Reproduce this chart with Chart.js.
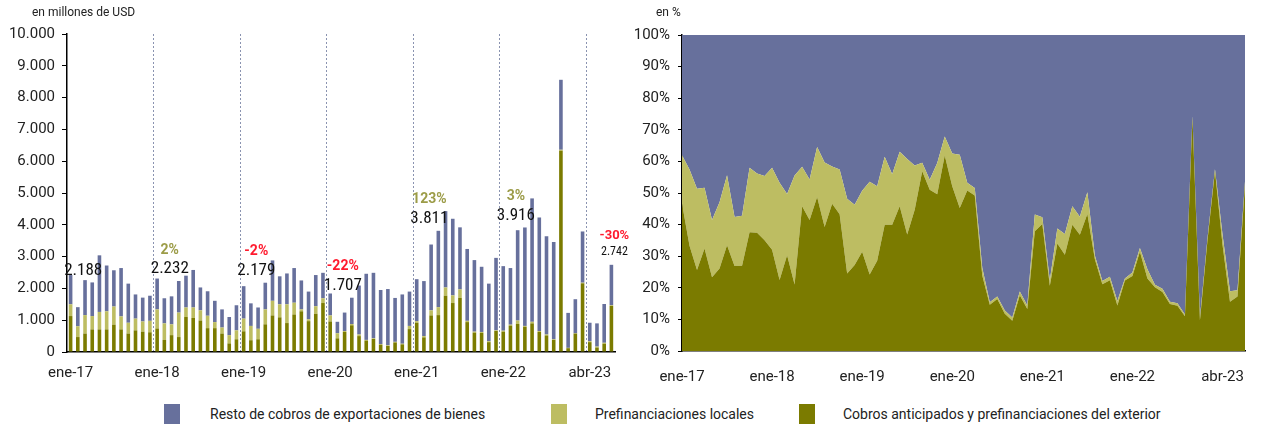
<!DOCTYPE html>
<html>
<head>
<meta charset="utf-8">
<script src="https://cdn.jsdelivr.net/npm/chart.js@4.4.0/dist/chart.umd.min.js"></script>
<style>
  body { margin: 0; background: #fff; font-family: Roboto, sans-serif; }
  #wrap { position: relative; width: 1266px; height: 428px; overflow: hidden; }
  canvas { position: absolute; top: 0; }
  .unit { position: absolute; top: 5px; font-size: 12px; color: #222; }
  .lg-box { position: absolute; top: 404px; width: 16px; height: 20px; }
  .lg-txt { position: absolute; top: 405px; font-size: 14px; color: #222; white-space: nowrap; line-height: 18px; }
</style>
</head>
<body>
<div id="wrap">
  <canvas id="left" width="645" height="390" style="left:0"></canvas>
  <canvas id="right" width="636" height="390" style="left:630px"></canvas>
  <div class="unit" style="left:32px">en millones de USD</div>
  <div class="unit" style="left:656px">en %</div>
  <div class="lg-box" style="left:164px;background:#67709c"></div>
  <div class="lg-txt" style="left:210px">Resto de cobros de exportaciones de bienes</div>
  <div class="lg-box" style="left:551px;background:#bdbd62"></div>
  <div class="lg-txt" style="left:595px">Prefinanciaciones locales</div>
  <div class="lg-box" style="left:799px;background:#7b7b00"></div>
  <div class="lg-txt" style="left:843px">Cobros anticipados y prefinanciaciones del exterior</div>
</div>
<script>
// meses ene-17 .. abr-23
var months = [
  'ene-17','feb-17','mar-17','abr-17','may-17','jun-17','jul-17','ago-17','sep-17','oct-17','nov-17','dic-17',
  'ene-18','feb-18','mar-18','abr-18','may-18','jun-18','jul-18','ago-18','sep-18','oct-18','nov-18','dic-18',
  'ene-19','feb-19','mar-19','abr-19','may-19','jun-19','jul-19','ago-19','sep-19','oct-19','nov-19','dic-19',
  'ene-20','feb-20','mar-20','abr-20','may-20','jun-20','jul-20','ago-20','sep-20','oct-20','nov-20','dic-20',
  'ene-21','feb-21','mar-21','abr-21','may-21','jun-21','jul-21','ago-21','sep-21','oct-21','nov-21','dic-21',
  'ene-22','feb-22','mar-22','abr-22','may-22','jun-22','jul-22','ago-22','sep-22','oct-22','nov-22','dic-22',
  'ene-23','feb-23','mar-23','abr-23'
];

// millones de USD
var anticipados = [
  1130,470,580,710,710,710,860,710,580,680,640,620,
  740,380,530,470,1100,1070,990,750,750,580,270,400,
  650,370,400,870,1150,1090,910,1180,1280,970,1200,1540,
  960,430,630,840,500,360,410,230,190,300,240,720,
  920,460,1150,1160,1770,1540,1700,940,610,600,310,660,
  640,830,880,790,900,630,520,380,6330,120,580,2160,
  310,140,260,1450
];
var locales = [
  370,340,580,420,550,570,570,410,340,370,320,360,
  600,520,340,770,300,330,320,390,190,190,260,280,
  400,450,330,470,460,410,590,370,60,60,240,150,
  190,160,30,40,50,20,20,20,20,20,20,100,
  50,40,160,250,260,240,270,40,30,30,30,20,
  30,30,110,30,50,30,30,20,30,10,10,20,
  30,30,30,20
];
var resto = [
  920,600,1100,1058,1780,1440,1140,1520,1230,760,750,790,
  970,790,880,992,1000,1180,720,770,670,570,570,790,
  1020,710,670,839,1270,880,970,1090,910,870,980,800,
  690,360,580,827,1540,2080,2060,1700,1770,1380,1550,1080,
  1320,1730,2070,2401,2400,2410,1950,2260,2250,2050,1810,2280,
  2030,1780,2840,3096,3880,3570,3090,3060,2200,1100,1070,1610,
  580,730,1220,1272
];

var axisLabels = {0:'ene-17', 12:'ene-18', 24:'ene-19', 36:'ene-20', 48:'ene-21', 60:'ene-22', 72:'abr-23'};

// etiquetas de abril y variacion interanual
var aprilIdx = [3, 15, 27, 39, 51, 63, 75];
var aprilText = ['2.188', '2.232', '2.179', '1.707', '3.811', '3.916', '2.742'];
var yoyText = ['', '2%', '-2%', '-22%', '123%', '3%', '-30%'];

var colAnt = '#7b7b00', colLoc = '#bdbd62', colResto = '#67709c';

var totals = months.map(function(m, i){ return anticipados[i] + locales[i] + resto[i]; });
var pctAnt = anticipados.map(function(v, i){ return v / totals[i] * 100; });
var pctLoc = locales.map(function(v, i){ return v / totals[i] * 100; });
var pctResto = resto.map(function(v, i){ return v / totals[i] * 100; });

var tickFont = {family: 'Roboto', size: 15};

var aprPlugin = {
  id: 'aprLabels',
  afterDatasetsDraw: function(chart) {
    var ctx = chart.ctx, x = chart.scales.x, y = chart.scales.y;
    ctx.save();
    ctx.textAlign = 'center';
    ctx.textBaseline = 'middle';
    aprilIdx.forEach(function(idx, k) {
      var last = k === aprilIdx.length - 1;
      var px = x.getPixelForValue(idx) + (last ? 3 : -9);
      var py = y.getPixelForValue(totals[idx]) - (last ? 13 : 12);
      ctx.fillStyle = '#111';
      ctx.font = (last ? '12px' : '17px') + ' "Liberation Sans Narrow", "Roboto Condensed", Roboto';
      ctx.fillText(aprilText[k], px, py);
      if (yoyText[k]) {
        ctx.font = 'bold ' + (last ? '13px' : '14px') + ' Roboto';
        ctx.fillStyle = yoyText[k].charAt(0) === '-' ? '#ff1a2e' : '#9c9c48';
        ctx.fillText(yoyText[k], px, py - (last ? 16 : 19));
      }
    });
    ctx.restore();
  }
};

new Chart(document.getElementById('left'), {
  type: 'bar',
  data: {
    labels: months,
    datasets: [
      {label: 'Cobros anticipados y prefinanciaciones del exterior', data: anticipados, backgroundColor: colAnt},
      {label: 'Prefinanciaciones locales', data: locales, backgroundColor: colLoc},
      {label: 'Resto de cobros de exportaciones de bienes', data: resto, backgroundColor: colResto}
    ]
  },
  options: {
    responsive: false,
    animation: false,
    barPercentage: 0.5,
    categoryPercentage: 1.0,
    layout: {padding: {top: 34, right: 30, left: 0, bottom: 8}},
    plugins: {legend: {display: false}, tooltip: {enabled: false}},
    scales: {
      x: {
        stacked: true,
        offset: true,
        grid: {
          offset: true,
          drawTicks: false,
          color: function(c) { return (c.index > 0 && c.index % 12 === 0) ? '#8a93b0' : 'rgba(0,0,0,0)'; }
        },
        border: {color: '#000', width: 1.5, dash: [2, 2]},
        ticks: {
          autoSkip: false, maxRotation: 0, padding: 12, font: tickFont, color: '#222',
          callback: function(v, i) { return axisLabels[i] || ''; }
        },
        afterFit: function(s) { s.height = 30; }
      },
      y: {
        stacked: true, min: 0, max: 10000,
        grid: {drawOnChartArea: false, drawTicks: true, tickLength: 5, color: '#000'},
        border: {color: '#000', width: 1.5},
        ticks: {
          stepSize: 1000, padding: 7, font: tickFont, color: '#222',
          callback: function(v) { return v.toLocaleString('de-DE'); }
        },
        afterFit: function(s) { s.width = 67; }
      }
    }
  },
  plugins: [aprPlugin]
});

new Chart(document.getElementById('right'), {
  type: 'line',
  data: {
    labels: months,
    datasets: [
      {data: pctAnt, backgroundColor: colAnt, fill: 'origin'},
      {data: pctLoc, backgroundColor: colLoc, fill: '-1'},
      {data: pctResto, backgroundColor: colResto, fill: '-1'}
    ]
  },
  options: {
    responsive: false,
    animation: false,
    elements: {point: {radius: 0}, line: {borderWidth: 0, tension: 0}},
    layout: {padding: {top: 35, right: 21, left: 0, bottom: 8}},
    plugins: {legend: {display: false}, tooltip: {enabled: false}},
    scales: {
      x: {
        offset: false,
        grid: {display: false},
        border: {color: '#000', width: 1.5},
        ticks: {
          autoSkip: false, maxRotation: 0, padding: 9, font: tickFont, color: '#222',
          callback: function(v, i) { return axisLabels[i] || ''; }
        },
        afterFit: function(s) { s.height = 31; }
      },
      y: {
        stacked: true, min: 0, max: 100,
        grid: {drawOnChartArea: false, drawTicks: true, tickLength: 4, color: '#000'},
        border: {color: '#000', width: 1.5},
        ticks: {
          stepSize: 10, padding: 8, font: tickFont, color: '#222',
          callback: function(v) { return v + '%'; }
        },
        afterFit: function(s) { s.width = 52; }
      }
    }
  }
});
</script>
</body>
</html>
